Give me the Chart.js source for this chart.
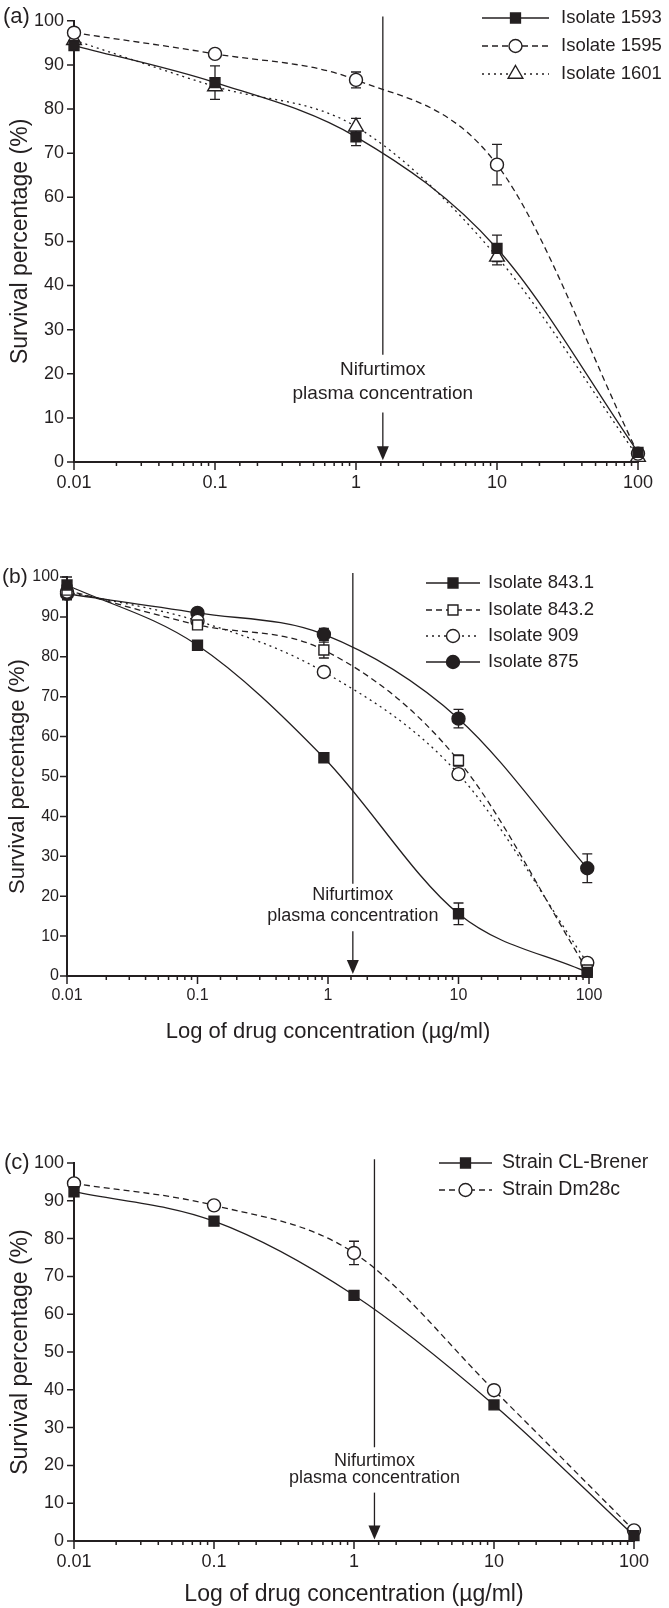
<!DOCTYPE html>
<html>
<head>
<meta charset="utf-8">
<script src="https://cdn.jsdelivr.net/npm/chart.js@4.4.1/dist/chart.umd.min.js"></script>
<style>
  html, body { margin: 0; padding: 0; background: #fff; }
  body { width: 669px; height: 1608px; position: relative; overflow: hidden; }
  canvas { position: absolute; left: 0; }
</style>
</head>
<body>
<canvas id="chartA" width="669" height="510" style="top:0"></canvas>
<canvas id="chartB" width="669" height="530" style="top:520px"></canvas>
<canvas id="chartC" width="669" height="548" style="top:1060px"></canvas>
<script>
// --- data ---
const xTickLabels = ['0.01', '0.1', '1', '10', '100'];

// panel (a)
const concA = [0.01, 0.1, 1, 10, 100];
const iso1593 = [94.4, 86.0, 73.7, 48.4, 2.2];
const iso1593Err = [0, 3.8, 2.0, 3.0, 0];
const iso1595 = [97.3, 92.5, 86.6, 67.4, 1.9];
const iso1595Err = [0, 0, 1.8, 4.6, 0];
const iso1601 = [95.6, 85.1, 76.0, 46.5, 1.1];
const iso1601Err = [0, 0, 1.9, 1.8, 0];

// panel (b)
const concB = [0.01, 0.1, 0.93, 10, 97];
const iso8431 = [98.0, 82.9, 54.7, 15.6, 0.9];
const iso8431Err = [2.0, 1.0, 0, 2.7, 0];
const iso8432 = [96.7, 88.0, 81.7, 54.0, 1.5];
const iso8432Err = [1.5, 0, 2.0, 1.4, 0];
const iso909 = [96.3, 89.0, 76.2, 50.6, 3.3];
const iso875 = [95.8, 91.0, 85.6, 64.5, 27.0];
const iso875Err = [1.5, 0, 1.5, 2.3, 3.6];

// panel (c)
const concC = [0.01, 0.1, 1, 10, 100];
const clBrener = [92.4, 84.6, 65.0, 36.0, 1.4];
const dm28c = [94.6, 88.8, 76.2, 39.9, 2.8];
const dm28cErr = [0, 0, 3.1, 0, 0];

const noteLines = ['Nifurtimox', 'plasma concentration'];

// --- styles ---
const INK = '#231f20';
const FONT = '"Liberation Sans", Arial, Helvetica, sans-serif';
Chart.defaults.font.family = FONT;
Chart.defaults.color = INK;

const markers = {
  filledSquare: { pointStyle: 'rect', pointRadius: 7, pointBackgroundColor: INK },
  openSquare: { pointStyle: 'rect', pointRadius: 7, pointBackgroundColor: '#fff' },
  openCircle: { pointStyle: 'circle', pointRadius: 6.5, pointBackgroundColor: '#fff' },
  filledCircle: { pointStyle: 'circle', pointRadius: 6.5, pointBackgroundColor: INK },
  openTriangle: { pointStyle: 'triangle', pointRadius: 8.5, pointBackgroundColor: '#fff' }
};
const dashes = { solid: [], dashed: [6, 4], dotted: [2, 4] };

function series(label, xs, ys, errs, marker, dash) {
  return Object.assign({
    label: label,
    data: xs.map((x, i) => ({ x: x, y: ys[i] })),
    errors: errs,
    borderColor: INK,
    borderWidth: 1.3,
    borderDash: dashes[dash],
    pointBorderColor: INK,
    pointBorderWidth: 1.4,
    pointHoverRadius: 0,
    fill: false,
    tension: 0.4,
    cubicInterpolationMode: 'monotone',
    clip: false
  }, markers[marker]);
}

function drawMarker(ctx, ds, x, y) {
  const r = ds.pointRadius;
  ctx.save();
  ctx.setLineDash([]);
  ctx.lineWidth = ds.pointBorderWidth;
  ctx.strokeStyle = ds.pointBorderColor;
  ctx.fillStyle = ds.pointBackgroundColor;
  ctx.beginPath();
  if (ds.pointStyle === 'rect') {
    const s = r * Math.SQRT1_2;
    ctx.rect(x - s, y - s, 2 * s, 2 * s);
  } else if (ds.pointStyle === 'triangle') {
    let a = 0;
    ctx.moveTo(x + Math.sin(a) * r, y - Math.cos(a) * r);
    a += 2 * Math.PI / 3;
    ctx.lineTo(x + Math.sin(a) * r, y - Math.cos(a) * r);
    a += 2 * Math.PI / 3;
    ctx.lineTo(x + Math.sin(a) * r, y - Math.cos(a) * r);
    ctx.closePath();
  } else {
    ctx.arc(x, y, r, 0, Math.PI * 2);
  }
  ctx.fill();
  ctx.stroke();
  ctx.restore();
}

// error bars, tick marks, the nifurtimox marker, legend and panel letter
const decor = {
  id: 'decor',
  beforeDatasetsDraw(chart, args, o) {
    const ctx = chart.ctx, xs = chart.scales.x, ys = chart.scales.y;
    ctx.save();
    ctx.strokeStyle = INK;
    ctx.fillStyle = INK;
    ctx.lineWidth = 1.3;

    // plasma concentration line + arrow
    const n = o.note;
    const nx = xs.getPixelForValue(n.x);
    ctx.beginPath();
    ctx.moveTo(nx, ys.getPixelForValue(n.lineTop));
    ctx.lineTo(nx, ys.getPixelForValue(n.lineBottom));
    ctx.stroke();
    ctx.font = n.font + 'px ' + FONT;
    ctx.textAlign = 'center';
    ctx.textBaseline = 'middle';
    ctx.fillText(noteLines[0], nx, ys.getPixelForValue(n.text1));
    ctx.fillText(noteLines[1], nx, ys.getPixelForValue(n.text2));
    const aTop = ys.getPixelForValue(n.arrowTop);
    const aTip = ys.getPixelForValue(n.arrowTip);
    ctx.beginPath();
    ctx.moveTo(nx, aTop);
    ctx.lineTo(nx, aTip - 12);
    ctx.stroke();
    ctx.beginPath();
    ctx.moveTo(nx - 6, aTip - 14);
    ctx.lineTo(nx + 6, aTip - 14);
    ctx.lineTo(nx, aTip);
    ctx.closePath();
    ctx.fill();

    // error bars
    chart.data.datasets.forEach(ds => {
      if (!ds.errors) return;
      ds.data.forEach((p, i) => {
        const e = ds.errors[i];
        if (!e) return;
        const px = xs.getPixelForValue(p.x);
        const t = ys.getPixelForValue(p.y + e);
        const b = ys.getPixelForValue(p.y - e);
        ctx.beginPath();
        ctx.moveTo(px, t); ctx.lineTo(px, b);
        ctx.moveTo(px - 5, t); ctx.lineTo(px + 5, t);
        ctx.moveTo(px - 5, b); ctx.lineTo(px + 5, b);
        ctx.stroke();
      });
    });
    ctx.restore();
  },
  afterDraw(chart, args, o) {
    const ctx = chart.ctx, xs = chart.scales.x, ys = chart.scales.y;
    const area = chart.chartArea;
    ctx.save();
    ctx.strokeStyle = INK;
    ctx.lineWidth = 1.5;
    ctx.beginPath();
    xs.ticks.forEach(t => {
      const l = Math.log10(t.value);
      const major = Math.abs(l - Math.round(l)) < 1e-6;
      const px = xs.getPixelForValue(t.value);
      ctx.moveTo(px, area.bottom);
      ctx.lineTo(px, area.bottom + (major ? 8 : 4));
    });
    ys.ticks.forEach(t => {
      const py = ys.getPixelForValue(t.value);
      ctx.moveTo(area.left, py);
      ctx.lineTo(area.left - 7, py);
    });
    ctx.stroke();

    // legend
    const lg = o.legend;
    ctx.font = lg.font + 'px ' + FONT;
    ctx.textAlign = 'left';
    ctx.textBaseline = 'middle';
    ctx.fillStyle = INK;
    chart.data.datasets.forEach((ds, i) => {
      const y = lg.rows[i];
      ctx.save();
      ctx.lineWidth = ds.borderWidth;
      ctx.setLineDash(ds.borderDash);
      ctx.beginPath();
      ctx.moveTo(lg.x0, y);
      ctx.lineTo(lg.x1, y);
      ctx.stroke();
      ctx.restore();
      drawMarker(ctx, ds, (lg.x0 + lg.x1) / 2, y);
      ctx.fillText(ds.label, lg.textX, y);
    });

    // panel letter
    ctx.font = o.tag.font + 'px ' + FONT;
    ctx.fillText(o.tag.text, o.tag.x, o.tag.y);
    ctx.restore();
  }
};

function decadeLabel(v) {
  const l = Math.log10(v);
  if (Math.abs(l - Math.round(l)) > 1e-6) return '';
  return xTickLabels[Math.round(l) + 2] || '';
}

function makeChart(id, cfg) {
  return new Chart(document.getElementById(id), {
    type: 'line',
    data: { datasets: cfg.datasets },
    plugins: [decor],
    options: {
      responsive: false,
      animation: false,
      events: [],
      layout: { padding: { top: cfg.padTop, right: cfg.padRight, left: 0, bottom: 0 } },
      plugins: {
        legend: { display: false },
        tooltip: { enabled: false },
        decor: { note: cfg.note, legend: cfg.legend, tag: cfg.tag }
      },
      scales: {
        x: {
          type: 'logarithmic',
          min: 0.01,
          max: 100,
          grid: { display: false, drawTicks: false },
          border: { display: true, color: INK, width: 2 },
          ticks: { autoSkip: false, maxRotation: 0, padding: 10, font: { size: cfg.tickFont }, color: INK, callback: decadeLabel },
          title: cfg.xTitle ? { display: true, text: cfg.xTitle, font: { size: cfg.titleFont }, color: INK, padding: { top: 0, bottom: cfg.xTitlePad } } : { display: false },
          afterFit: s => { s.height = cfg.xAxisH; }
        },
        y: {
          min: 0,
          max: 100,
          grid: { display: false, drawTicks: false },
          border: { display: true, color: INK, width: 2 },
          ticks: { stepSize: 10, padding: cfg.tickPad, font: { size: cfg.tickFont }, color: INK },
          title: { display: true, text: 'Survival percentage (%)', font: { size: cfg.titleFont }, color: INK, padding: { top: cfg.yTitlePad, bottom: 0 } },
          afterFit: s => { s.width = cfg.yAxisW; }
        }
      }
    }
  });
}

makeChart('chartA', {
  datasets: [
    series('Isolate 1593', concA, iso1593, iso1593Err, 'filledSquare', 'solid'),
    series('Isolate 1595', concA, iso1595, iso1595Err, 'openCircle', 'dashed'),
    series('Isolate 1601', concA, iso1601, iso1601Err, 'openTriangle', 'dotted')
  ],
  padTop: 17, padRight: 31, yAxisW: 74, xAxisH: 48,
  tickFont: 18, titleFont: 23, tickPad: 10, yTitlePad: 7,
  note: { x: 1.55, lineTop: 101, lineBottom: 24.3, text1: 20.8, text2: 15.4, arrowTop: 11.2, arrowTip: 0.4, font: 19 },
  legend: { x0: 482, x1: 549, textX: 561, rows: [18, 46, 74], font: 18.5 },
  tag: { text: '(a)', x: 3, y: 17, font: 22 }
});

makeChart('chartB', {
  datasets: [
    series('Isolate 843.1', concB, iso8431, iso8431Err, 'filledSquare', 'solid'),
    series('Isolate 843.2', concB, iso8432, iso8432Err, 'openSquare', 'dashed'),
    series('Isolate 909', concB, iso909, null, 'openCircle', 'dotted'),
    series('Isolate 875', concB, iso875, iso875Err, 'filledCircle', 'solid')
  ],
  padTop: 57, padRight: 80, yAxisW: 67, xAxisH: 74,
  tickFont: 16, titleFont: 22, tickPad: 8, yTitlePad: 5,
  xTitle: 'Log of drug concentration (µg/ml)', xTitlePad: 5,
  note: { x: 1.55, lineTop: 101, lineBottom: 23.1, text1: 20.2, text2: 15.0, arrowTop: 11.2, arrowTip: 0.5, font: 18 },
  legend: { x0: 426, x1: 480, textX: 488, rows: [63, 90, 116, 142], font: 18.5 },
  tag: { text: '(b)', x: 2, y: 57, font: 21 }
});

makeChart('chartC', {
  datasets: [
    series('Strain CL-Brener', concC, clBrener, null, 'filledSquare', 'solid'),
    series('Strain Dm28c', concC, dm28c, dm28cErr, 'openCircle', 'dashed')
  ],
  padTop: 103, padRight: 35, yAxisW: 74, xAxisH: 67,
  tickFont: 18, titleFont: 23, tickPad: 10, yTitlePad: 7,
  xTitle: 'Log of drug concentration (µg/ml)', xTitlePad: 0,
  note: { x: 1.4, lineTop: 101, lineBottom: 24.8, text1: 21.2, text2: 16.6, arrowTop: 12.8, arrowTip: 0.4, font: 18 },
  legend: { x0: 439, x1: 492, textX: 502, rows: [103, 130], font: 19.5 },
  tag: { text: '(c)', x: 4, y: 103, font: 22 }
});
</script>
</body>
</html>
